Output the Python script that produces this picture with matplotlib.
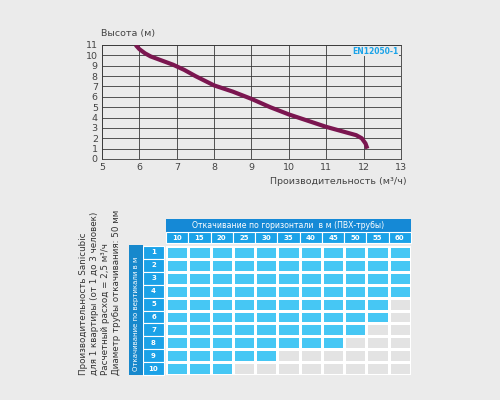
import matplotlib.pyplot as plt
import numpy as np
from matplotlib.patches import Rectangle

plt.rcParams['font.family'] = ['DejaVu Sans']

# pump curve
flow = [5.9, 6.0, 6.15, 6.3, 6.6, 6.9, 7.2, 7.5, 8.0, 8.5, 9.0, 9.5, 10.0, 10.5, 11.0, 11.5, 11.8, 11.95, 12.05, 12.1]
height = [11.0, 10.6, 10.2, 9.9, 9.5, 9.1, 8.6, 8.0, 7.1, 6.5, 5.8, 5.0, 4.3, 3.7, 3.1, 2.6, 2.3, 2.0, 1.5, 1.0]

# table
horiz = [10, 15, 20, 25, 30, 35, 40, 45, 50, 55, 60]
vert = [1, 2, 3, 4, 5, 6, 7, 8, 9, 10]
filled = [11, 11, 11, 11, 10, 10, 9, 8, 5, 3]

bg = '#ebebeb'
fig = plt.figure(figsize=(5, 4), dpi=100, facecolor=bg)

ax = fig.add_axes([0.204, 0.6025, 0.598, 0.285], facecolor=bg)
ax.plot(flow, height, color='#7b1650', lw=3, solid_capstyle='butt', zorder=3)
ax.set_xlim(5, 13)
ax.set_ylim(0, 11)
ax.set_xticks(range(5, 14))
ax.set_yticks(range(0, 12))
ax.grid(True, color='#3a3a3a', lw=0.6)
for s in ax.spines.values():
    s.set_color('#3a3a3a')
    s.set_linewidth(0.6)
ax.tick_params(length=0, labelsize=6.8, colors='#444444', pad=3)
ax.text(-0.005, 1.06, 'Высота (м)', transform=ax.transAxes, fontsize=6.8, color='#444444', ha='left', va='bottom')
ax.text(1.02, -0.16, 'Производительность (м³/ч)', transform=ax.transAxes, fontsize=6.8, color='#444444', ha='right', va='top')
ax.text(0.99, 0.985, 'EN12050-1', transform=ax.transAxes, fontsize=5.5, color='#1aa3e8', weight='bold', ha='right', va='top', zorder=4,
        bbox=dict(fc=bg, ec='none', pad=0.5))

# table cells
tx = fig.add_axes([0.332, 0.0625, 0.49, 0.3225])
mat = np.array([[1 if j < filled[i] else 0 for j in range(len(horiz))] for i in range(len(vert))])
tx.pcolormesh(mat, cmap=plt.matplotlib.colors.ListedColormap(['#e3e3e3', '#46c7f4']), edgecolors='white', linewidth=0.8)
tx.set_xlim(0, len(horiz))
tx.set_ylim(len(vert), 0)
tx.axis('off')

hdr_dark = '#1589d6'
hdr_light = '#1ba2e8'
band = '#1788cc'
# header
tx.add_patch(Rectangle((0, -2.1), len(horiz), 1.02, fc=hdr_dark, ec='none', clip_on=False))
tx.text(len(horiz) / 2, -1.59, 'Откачивание по горизонтали  в м (ПВХ-трубы)', ha='center', va='center', color='white', fontsize=5.6, clip_on=False)
for j, h in enumerate(horiz):
    tx.add_patch(Rectangle((j, -1.08), 1, 0.85, fc=hdr_light, ec='white', lw=0.8, clip_on=False))
    tx.text(j + 0.5, -0.65, str(h), ha='center', va='center', color='white', fontsize=5, weight='bold', clip_on=False)
# row labels
for i, v in enumerate(vert):
    tx.add_patch(Rectangle((-1.03, i), 0.94, 1, fc=hdr_light, ec='white', lw=0.8, clip_on=False))
    tx.text(-0.56, i + 0.5, str(v), ha='center', va='center', color='white', fontsize=5, weight='bold', clip_on=False)
tx.add_patch(Rectangle((-1.66, -0.05), 0.63, len(vert) + 0.05, fc=band, ec='none', clip_on=False))
tx.text(-1.345, len(vert) / 2 + 0.3, 'Откачивание по вертикали в м', rotation=90, ha='center', va='center', color='white', fontsize=5, clip_on=False)

side = ['Производительность Sanicubic',
        'для 1 квартиры (от 1 до 3 человек)',
        'Расчетный расход = 2,5 м³/ч',
        'Диаметр трубы откачивания: 50 мм']
for k, line in enumerate(side):
    fig.text((84 + k * 10.7) / 500, 1 - 375 / 400, line, rotation=90, ha='center', va='bottom', fontsize=6.3, color='#333333')

fig.savefig('out.png', dpi=100, facecolor=bg)
